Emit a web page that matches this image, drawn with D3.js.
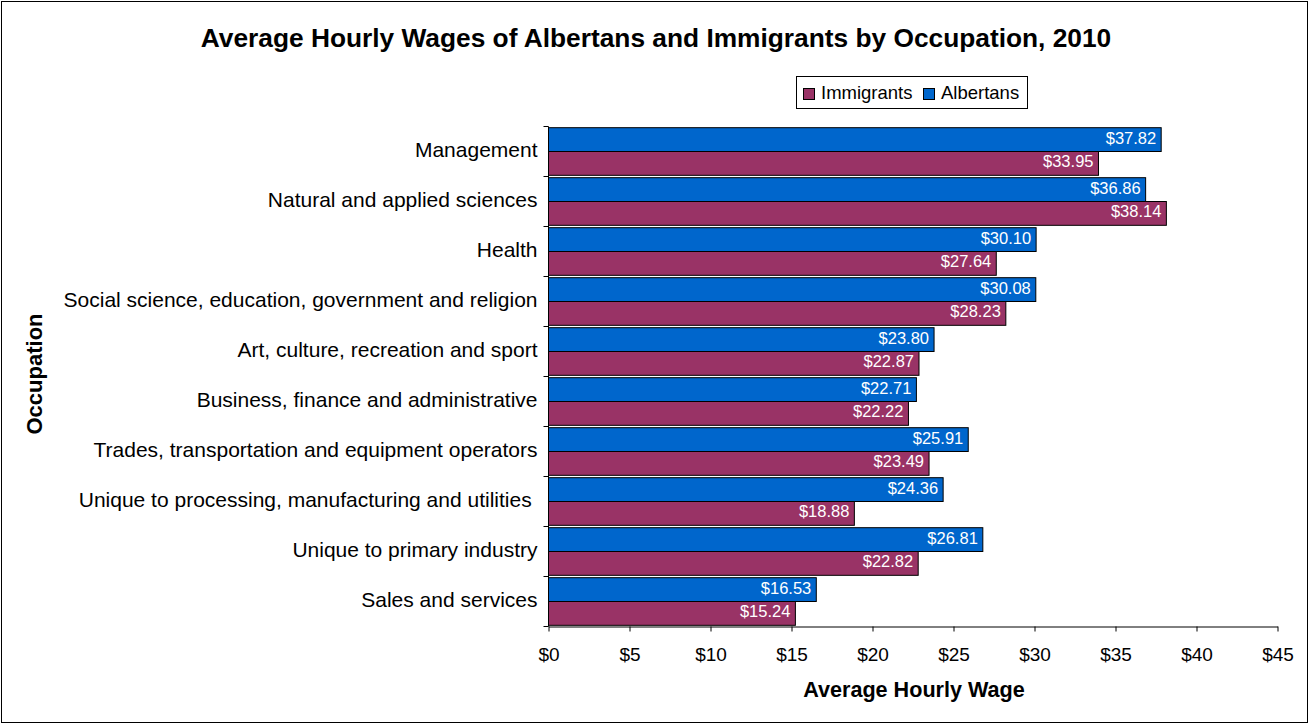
<!DOCTYPE html>
<html>
<head>
<meta charset="utf-8">
<script src="https://cdn.jsdelivr.net/npm/d3@7"></script>
<style>
  html, body { margin: 0; padding: 0; background: #fff; }
  svg text { font-family: Arial, "Liberation Sans", sans-serif; }
</style>
</head>
<body>
<svg id="chart" width="1310" height="725"></svg>
<script>
const categories = [
  "Management",
  "Natural and applied sciences",
  "Health",
  "Social science, education, government and religion",
  "Art, culture, recreation and sport",
  "Business, finance and administrative",
  "Trades, transportation and equipment operators",
  "Unique to processing, manufacturing and utilities ",
  "Unique to primary industry",
  "Sales and services"
];
const albertans = [37.82, 36.86, 30.10, 30.08, 23.80, 22.71, 25.91, 24.36, 26.81, 16.53];
const immigrants = [33.95, 38.14, 27.64, 28.23, 22.87, 22.22, 23.49, 18.88, 22.82, 15.24];
const seriesNames = ["Albertans", "Immigrants"];
const seriesColors = ["#0066CC", "#993366"];
const xTicks = [0, 5, 10, 15, 20, 25, 30, 35, 40, 45];
const titleText = "Average Hourly Wages of Albertans and Immigrants by Occupation, 2010";
const xTitle = "Average Hourly Wage";
const yTitle = "Occupation";

const svg = d3.select("#chart");

// outer border
svg.append("rect").attr("x", 1.5).attr("y", 1.5).attr("width", 1306).attr("height", 721)
  .attr("fill", "#fff").attr("stroke", "#000").attr("stroke-width", 1);

const pLeft = 548.5, pRight = 1277.5, pTop = 126.5, pBottom = 626.5;

const x = d3.scaleLinear().domain([0, 45]).range([pLeft, pRight]);
const y0 = d3.scaleBand().domain(categories).range([pTop, pBottom]).paddingInner(0).paddingOuter(0);
const y1 = d3.scaleBand().domain(seriesNames).range([0, y0.bandwidth()]).paddingInner(0).paddingOuter(0.05);

const rows = categories.map((c, i) => ({cat: c, vals: [albertans[i], immigrants[i]]}));

const groups = svg.append("g").selectAll("g").data(rows).join("g")
  .attr("transform", d => `translate(0,${y0(d.cat)})`);

groups.selectAll("rect").data(d => d.vals.map((v, k) => ({v, k})))
  .join("rect")
  .attr("x", x(0))
  .attr("y", d => y1(seriesNames[d.k]))
  .attr("width", d => x(d.v) - x(0))
  .attr("height", y1.bandwidth())
  .attr("fill", d => seriesColors[d.k])
  .attr("stroke", "#000").attr("stroke-width", 1);

groups.selectAll("text.val").data(d => d.vals.map((v, k) => ({v, k})))
  .join("text").attr("class", "val")
  .attr("x", d => x(d.v) - 5)
  .attr("y", d => y1(seriesNames[d.k]) + y1.bandwidth() / 2)
  .attr("dy", "0.24em")
  .attr("text-anchor", "end")
  .attr("font-size", 16.5)
  .attr("fill", "#fff")
  .text(d => "$" + d.v.toFixed(2));

// Y axis
const yAxis = svg.append("g").attr("transform", `translate(${pLeft},0)`);
yAxis.append("line").attr("x1", 0).attr("x2", 0).attr("y1", pTop).attr("y2", pBottom).attr("stroke", "#000");
const boundaries = categories.map(c => y0(c)).concat([pBottom]);
yAxis.selectAll("line.tk").data(boundaries).join("line").attr("class", "tk")
  .attr("x1", -5).attr("x2", 0).attr("y1", d => Math.round(d - 0.5) + 0.5).attr("y2", d => Math.round(d - 0.5) + 0.5)
  .attr("stroke", "#000");
yAxis.selectAll("text").data(categories).join("text")
  .attr("x", -11)
  .attr("y", d => y0(d) + y0.bandwidth() / 2)
  .attr("dy", "0.28em")
  .attr("text-anchor", "end")
  .attr("font-size", 21)
  .style("white-space", "pre")
  .attr("fill", "#000")
  .text(d => d);

// X axis
const xAxisG = svg.append("g").attr("transform", `translate(0,${pBottom})`);
xAxisG.call(d3.axisBottom(x).tickValues(xTicks).tickSize(5).tickSizeOuter(0).tickFormat(d => "$" + d));
xAxisG.select(".domain").attr("stroke", "#000");
xAxisG.selectAll(".tick line").attr("stroke", "#000");
xAxisG.selectAll(".tick text").attr("font-size", 19).attr("font-family", "Arial, 'Liberation Sans', sans-serif")
  .attr("fill", "#000").attr("y", 0).attr("dy", "0").attr("transform", "translate(0,34)");

// Titles
svg.append("text").attr("x", 656).attr("y", 47).attr("text-anchor", "middle")
  .attr("font-size", 26.3).attr("font-weight", "bold").text(titleText);
svg.append("text").attr("x", 914).attr("y", 697).attr("text-anchor", "middle")
  .attr("font-size", 21.6).attr("font-weight", "bold").text(xTitle);
svg.append("text").attr("transform", "translate(42,374) rotate(-90)").attr("text-anchor", "middle")
  .attr("font-size", 22).attr("font-weight", "bold").text(yTitle);

// Legend
const legend = svg.append("g");
legend.append("rect").attr("x", 796.5).attr("y", 76.5).attr("width", 231).attr("height", 32)
  .attr("fill", "#fff").attr("stroke", "#000");
const legendItems = [
  {name: "Immigrants", color: seriesColors[1], sx: 803, tx: 821},
  {name: "Albertans", color: seriesColors[0], sx: 923, tx: 941}
];
legendItems.forEach(it => {
  legend.append("rect").attr("x", it.sx + 0.5).attr("y", 88.5).attr("width", 11).attr("height", 11)
    .attr("fill", it.color).attr("stroke", "#000");
  legend.append("text").attr("x", it.tx).attr("y", 99).attr("font-size", 18.5).attr("fill", "#000").text(it.name);
});
</script>
</body>
</html>
